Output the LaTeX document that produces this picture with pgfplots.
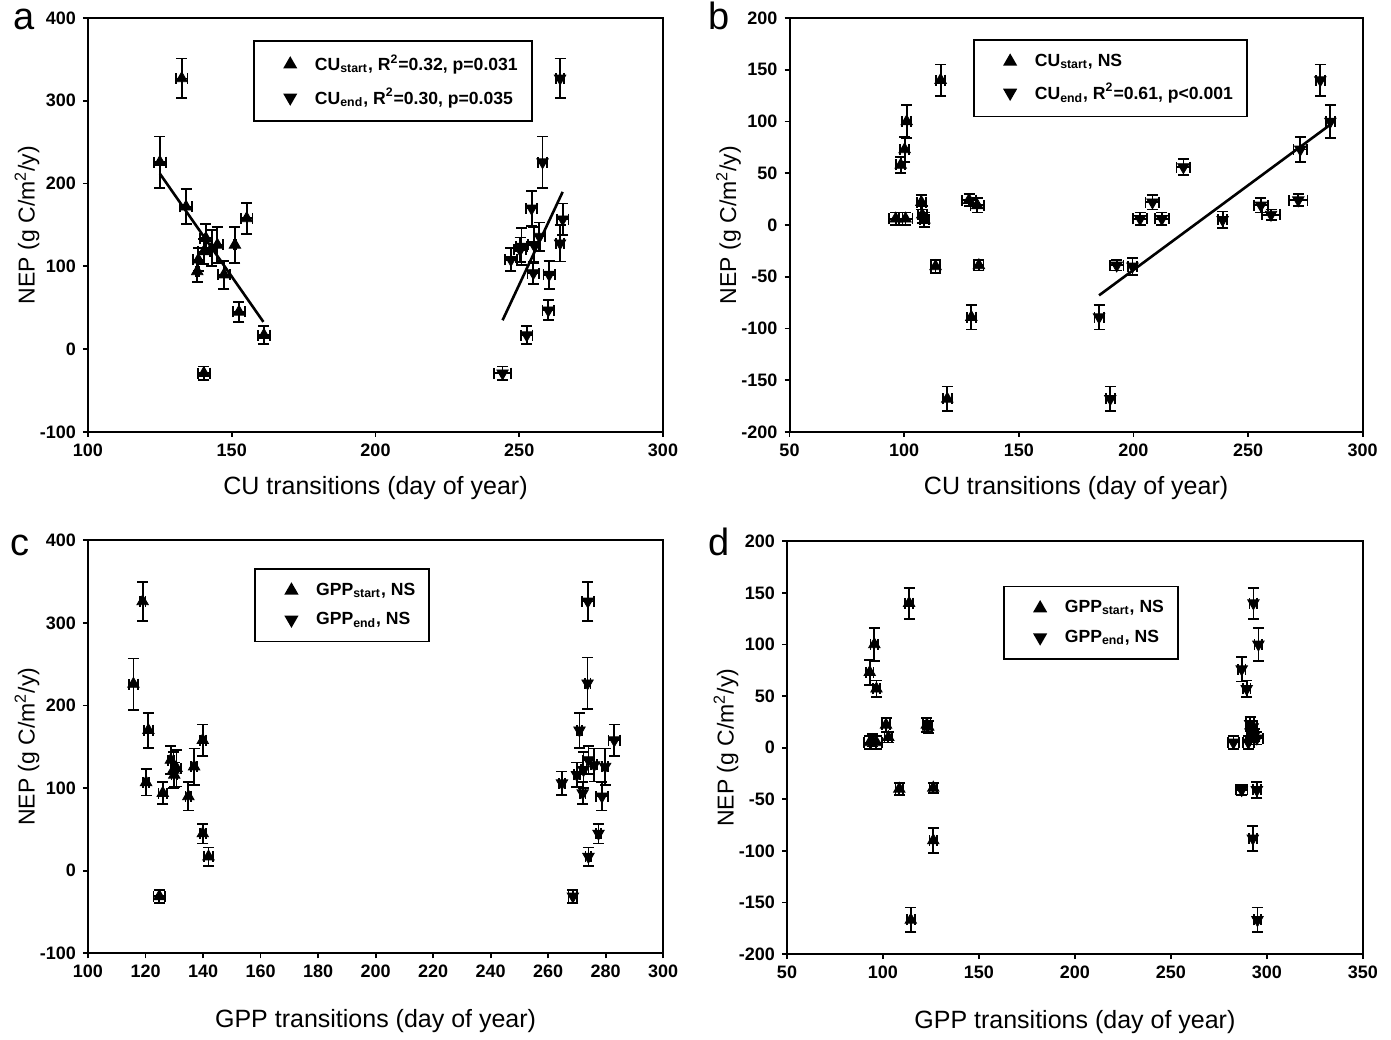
\documentclass[border=0pt]{standalone}
\usepackage{fontspec}
\setmainfont{Liberation Sans}
\usepackage{pgfplots}
\usepackage{pgfplotstable}
\pgfplotsset{compat=1.18}

% NEP against phenology transitions; columns: day, NEP, x error, y error
\pgfplotstableread{
x y ex ey
132.6 327 2 24
125.0 226 2 31
134.1 172 2 21
155.2 158 2 19
141.0 134 2 17
151.1 126 0.5 22
145.0 126 2 22
143.0 122 2 22
140.3 118 2 15
138.4 108 2 14
138.0 94 0.5 13
147.3 90 2 17
152.5 45 2 12
161.2 17 2 11
140.3 -29 2 8
}\astart
\pgfplotstableread{
x y ex ey
264.2 327 1.5 24
258.1 226 1.5 31
254.3 170 2 21
265.1 157 2 19
264.2 128 1.5 22
257.0 136 2 17
255.1 126 2 22
250.8 124 2 22
250.3 120 2 15
247.1 108 2 14
254.9 92 2 13
260.4 90 2 17
260.1 47 2 12
252.6 17 2 11
244.2 -29 3 8
}\aend
\pgfplotstableread{
x y ex ey
115.9 140 2 15
101.1 100 2 16
100.2 73 2 12
98.5 58 2 8
96.3 6 3 6
100.6 6 3 6
107.5 22 2 7
107.9 10 2 8
108.8 5 2 7
128.3 24 3 6
131.9 19 3 7
113.7 -40 2 6
132.6 -39 2 5
129.3 -89 2 12
118.8 -168 2 12
}\bstart
\pgfplotstableread{
x y ex ey
281.5 140 2 15
285.9 100 2 16
272.8 73 3 12
221.8 56 3 8
208.3 22 3 7
202.9 6 3 6
212.4 6 3 6
238.9 5 2 8
255.6 19 3 7
260.0 10 4 5
271.9 24 4 6
192.7 -39 3 5
199.6 -40 2 8
185.0 -89 2 12
189.9 -168 2 12
}\bend
\pgfplotstableread{
x y ex ey
119.0 326 1 24
115.8 226 1.5 31
121.0 170 1.5 21
120.2 107 1 16
126.0 94 1.5 13
128.8 134 1 17
129.7 122 1 22
130.8 124 1.5 22
130.0 116 1 15
134.9 90 1 17
136.9 126 1 22
139.9 158 1 19
139.9 45 1 12
141.9 17 1.5 11
124.8 -31 2 8
}\cstart
\pgfplotstableread{
x y ex ey
273.8 326 2 24
273.7 227 1 31
270.9 170 1 21
283.0 158 2 19
274.0 134 2 17
279.8 126 1 22
276.0 128 1 20
272.3 122 1 22
270.0 116 1 15
264.8 106 1 14
272.0 94 1 13
278.7 90 2 17
277.5 45 1 12
274.0 17 1 11
268.6 -31 1.5 8
}\cend
\pgfplotstableread{
x y ex ey
113.6 140 2 15
95.5 100 2 16
93.1 73 2 12
96.6 57 2 8
101.6 22 2 7
102.8 10 2 5
93.1 5 3 6
96.6 5 3 6
94.5 7 2 6
122.8 22 2 7
123.6 20 2 6
108.5 -40 2 6
126.2 -39 2 5
126.2 -90 2 12
114.5 -167 2 12
}\dstart
\pgfplotstableread{
x y ex ey
293.0 140 2 15
295.6 100 2 16
286.9 76 2 12
289.5 57 2 8
291.3 23 2 7
292.7 20 2 6
293.5 12 2 6
291.5 15 2 6
282.6 5 3 6
290.4 5 3 6
294.8 9 3 6
286.9 -41 3 5
294.8 -41 2 8
292.7 -88 2 12
295.1 -167 2 12
}\dend

\pgfplotsset{
  panel/.style={
    scale only axis, anchor=south west,
    axis line style={line width=1pt},
    tick align=outside, xtick pos=bottom, ytick pos=left,
    major tick length=2.5pt,
    every tick/.style={line width=0.9pt, black},
    tick label style={font=\fontsize{9}{10}\selectfont\bfseries},
    /pgf/number format/assume math mode=true,
    every axis y label/.style={at={(axis description cs:0,0.5)}, xshift=-30.5pt, rotate=90, anchor=center,
      font=\fontsize{11.5}{12}\selectfont},
    every axis x label/.style={at={(axis description cs:0.5,0)}, yshift=-28pt, anchor=center,
      font=\fontsize{12.5}{13}\selectfont},
    legend cell align=left,
    legend style={anchor=north west, draw=black, line width=0.8pt,
      inner xsep=5pt, inner ysep=5pt, row sep=3pt,
      font=\fontsize{8.8}{10}\selectfont\bfseries},
    legend image code/.code={\draw[##1] plot coordinates {(0.45cm,0cm)}; \path (0cm,0cm) (0.8cm,0cm);},
  },
  pts/.style={only marks, mark=triangle*, mark size=3.3pt, black, forget plot,
    error bars/x dir=both, error bars/x explicit,
    error bars/y dir=both, error bars/y explicit,
    error bars/error bar style={line width=0.9pt, black},
    error bars/error mark options={rotate=90, line width=0.9pt, mark size=2.75pt, black}},
  up/.style={pts},
  down/.style={mark options={rotate=180}, pts},
  fit/.style={black, line width=1.3pt, no markers, forget plot},
  legup/.style={only marks, mark=triangle*, mark size=3.3pt, black},
  legdown/.style={only marks, mark=triangle*, mark size=3.3pt, black, mark options={rotate=180}},
}

\begin{document}
\begin{tikzpicture}
\useasboundingbox (0pt,0pt) rectangle (695.5pt,519.5pt);

% a
\begin{axis}[panel, at={(44pt,303.5pt)}, width=287.5pt, height=207pt,
  xmin=100, xmax=300, ymin=-100, ymax=400,
  xtick={100,150,...,300}, ytick={-100,0,...,400},
  xlabel={CU transitions (day of year)}, ylabel={NEP (g C/m\textsuperscript{2}/y)},
  legend style={at={(0.287,0.947)}}]
\addlegendimage{legup}
\addlegendentry{CU\textsubscript{start}, R\textsuperscript{2}=0.32, p=0.031}
\addlegendimage{legdown}
\addlegendentry{CU\textsubscript{end}, R\textsuperscript{2}=0.30, p=0.035}
\addplot[up] table[x=x, y=y, x error=ex, y error=ey] {\astart};
\addplot[down] table[x=x, y=y, x error=ex, y error=ey] {\aend};
\addplot[fit] coordinates {(125,212) (161,33)};
\addplot[fit] coordinates {(244.2,35) (265.1,190)};
\end{axis}

% b
\begin{axis}[panel, at={(394.75pt,303.5pt)}, width=286.6pt, height=207pt,
  xmin=50, xmax=300, ymin=-200, ymax=200,
  xtick={50,100,...,300}, ytick={-200,-150,...,200},
  xlabel={CU transitions (day of year)}, ylabel={NEP (g C/m\textsuperscript{2}/y)},
  legend style={at={(0.320,0.949)}}]
\addlegendimage{legup}
\addlegendentry{CU\textsubscript{start}, NS}
\addlegendimage{legdown}
\addlegendentry{CU\textsubscript{end}, R\textsuperscript{2}=0.61, p<0.001}
\addplot[up] table[x=x, y=y, x error=ex, y error=ey] {\bstart};
\addplot[down] table[x=x, y=y, x error=ex, y error=ey] {\bend};
\addplot[fit] coordinates {(185,-68) (285.9,97)};
\end{axis}

% c
\begin{axis}[panel, at={(44pt,42.85pt)}, width=287.6pt, height=206.5pt,
  xmin=100, xmax=300, ymin=-100, ymax=400,
  xtick={100,120,...,300}, ytick={-100,0,...,400},
  every axis x label/.append style={yshift=-6pt},
  xlabel={GPP transitions (day of year)}, ylabel={NEP (g C/m\textsuperscript{2}/y)},
  legend style={at={(0.289,0.933)}}]
\addlegendimage{legup}
\addlegendentry{GPP\textsubscript{start}, NS}
\addlegendimage{legdown}
\addlegendentry{GPP\textsubscript{end}, NS}
\addplot[up] table[x=x, y=y, x error=ex, y error=ey] {\cstart};
\addplot[down] table[x=x, y=y, x error=ex, y error=ey] {\cend};
\end{axis}

% d
\begin{axis}[panel, at={(393.5pt,42.5pt)}, width=287.9pt, height=206.4pt,
  xmin=50, xmax=350, ymin=-200, ymax=200,
  xtick={50,100,...,350}, ytick={-200,-150,...,200},
  every axis x label/.append style={yshift=-6pt},
  xlabel={GPP transitions (day of year)}, ylabel={NEP (g C/m\textsuperscript{2}/y)},
  legend style={at={(0.375,0.892)}}]
\addlegendimage{legup}
\addlegendentry{GPP\textsubscript{start}, NS}
\addlegendimage{legdown}
\addlegendentry{GPP\textsubscript{end}, NS}
\addplot[up] table[x=x, y=y, x error=ex, y error=ey] {\dstart};
\addplot[down] table[x=x, y=y, x error=ex, y error=ey] {\dend};
\end{axis}

\node[font=\fontsize{19}{19}\selectfont, anchor=base west, inner sep=0pt] at (6.3pt,504.5pt) {a};
\node[font=\fontsize{19}{19}\selectfont, anchor=base west, inner sep=0pt] at (354pt,504.5pt) {b};
\node[font=\fontsize{19}{19}\selectfont, anchor=base west, inner sep=0pt] at (5pt,241.5pt) {c};
\node[font=\fontsize{19}{19}\selectfont, anchor=base west, inner sep=0pt] at (354pt,241.5pt) {d};
\end{tikzpicture}
\end{document}
